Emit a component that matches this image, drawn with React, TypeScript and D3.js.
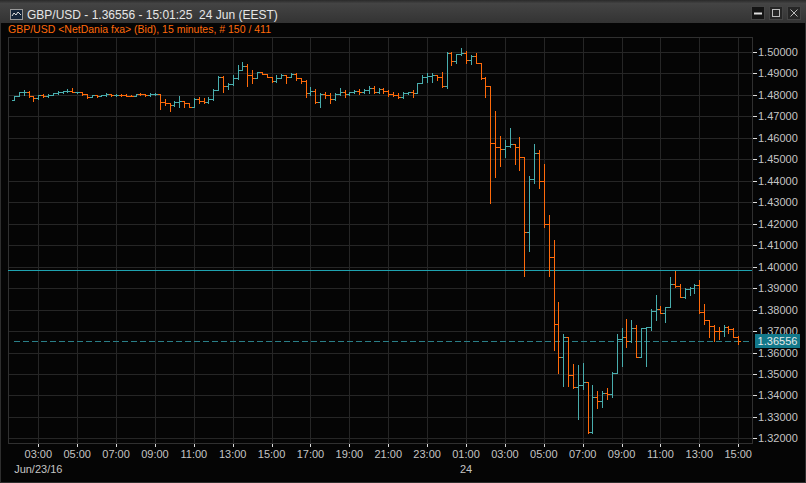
import { useEffect, useRef } from "react";
import * as d3 from "d3";

const width = 806, height = 483;
const plot = { left: 8, right: 752, top: 37, bottom: 443 };
const font = "'Liberation Sans', Arial, sans-serif";

const title = "GBP/USD - 1.36556 - 15:01:25  24 Jun (EEST)";
const subtitle = "GBP/USD <NetDania fxa> (Bid), 15 minutes, # 150 / 411";

// 15 minute bars, first one at Jun 23 01:45
const firstBar = Date.UTC(2016, 5, 23, 1, 45);
const barMinutes = 15;

const opens = [
  1.4775, 1.4797, 1.4812, 1.4814, 1.4797, 1.4784, 1.4801, 1.4797, 1.4801, 1.4807,
  1.4814, 1.4817, 1.4820, 1.4812, 1.4814, 1.4803, 1.4792, 1.4800, 1.4797, 1.4798,
  1.4806, 1.4800, 1.4801, 1.4798, 1.4797, 1.4795, 1.4804, 1.4803, 1.4801, 1.4804,
  1.4806, 1.4766, 1.4761, 1.4753, 1.4767, 1.4770, 1.4761, 1.4745, 1.4783, 1.4773,
  1.4767, 1.4779, 1.4823, 1.4885, 1.4842, 1.4851, 1.4877, 1.4916, 1.4935, 1.4893,
  1.4877, 1.4907, 1.4896, 1.4885, 1.4865, 1.4877, 1.4893, 1.4885, 1.4898, 1.4877,
  1.4866, 1.4811, 1.4820, 1.4769, 1.4804, 1.4800, 1.4779, 1.4804, 1.4815, 1.4803,
  1.4812, 1.4818, 1.4815, 1.4823, 1.4831, 1.4815, 1.4826, 1.4818, 1.4804, 1.4800,
  1.4792, 1.4807, 1.4815, 1.4810, 1.4854, 1.4885, 1.4888, 1.4893, 1.4885, 1.4842,
  1.4997, 1.4958, 1.4991, 1.4994, 1.4963, 1.4981, 1.4950, 1.4877, 1.4843, 1.4575,
  1.4559, 1.4547, 1.4562, 1.4572, 1.4556, 1.4510, 1.4163, 1.4407, 1.4528, 1.4401,
  1.4198, 1.4044, 1.3733, 1.3578, 1.3671, 1.3496, 1.3441, 1.3449, 1.3464, 1.3232,
  1.3395, 1.3376, 1.3410, 1.3407, 1.3506, 1.3663, 1.3671, 1.3655, 1.3713, 1.3578,
  1.3713, 1.3719, 1.3795, 1.3802, 1.3783, 1.3811, 1.3918, 1.3910, 1.3860, 1.3895,
  1.3899, 1.3915, 1.3790, 1.3752, 1.3725, 1.3702, 1.3698, 1.3721, 1.3708, 1.3674,
];

const highs = [
  1.4797, 1.4812, 1.4823, 1.4817, 1.4797, 1.4801, 1.4803, 1.4804, 1.4811, 1.4817,
  1.4820, 1.4826, 1.4832, 1.4815, 1.4814, 1.4804, 1.4801, 1.4801, 1.4801, 1.4807,
  1.4806, 1.4804, 1.4804, 1.4803, 1.4801, 1.4806, 1.4807, 1.4806, 1.4807, 1.4809,
  1.4806, 1.4779, 1.4764, 1.4770, 1.4795, 1.4770, 1.4764, 1.4785, 1.4792, 1.4784,
  1.4789, 1.4826, 1.4888, 1.4888, 1.4857, 1.4893, 1.4939, 1.4955, 1.4944, 1.4916,
  1.4908, 1.4907, 1.4897, 1.4885, 1.4893, 1.4897, 1.4893, 1.4901, 1.4901, 1.4877,
  1.4869, 1.4835, 1.4826, 1.4810, 1.4815, 1.4807, 1.4807, 1.4834, 1.4823, 1.4815,
  1.4823, 1.4826, 1.4826, 1.4842, 1.4842, 1.4834, 1.4831, 1.4823, 1.4815, 1.4810,
  1.4815, 1.4815, 1.4823, 1.4857, 1.4893, 1.4901, 1.4901, 1.4893, 1.4908, 1.5002,
  1.4998, 1.4991, 1.5017, 1.5005, 1.4986, 1.4994, 1.4950, 1.4882, 1.4843, 1.4727,
  1.4609, 1.4590, 1.4645, 1.4572, 1.4606, 1.4510, 1.4422, 1.4572, 1.4544, 1.4478,
  1.4241, 1.4124, 1.3837, 1.3687, 1.3671, 1.3547, 1.3542, 1.3550, 1.3464, 1.3449,
  1.3421, 1.3421, 1.3434, 1.3511, 1.3687, 1.3713, 1.3755, 1.3752, 1.3729, 1.3713,
  1.3719, 1.3802, 1.3868, 1.3817, 1.3814, 1.3951, 1.3981, 1.3919, 1.3899, 1.3904,
  1.3919, 1.3938, 1.3826, 1.3752, 1.3729, 1.3718, 1.3729, 1.3724, 1.3713, 1.3677,
];

const lows = [
  1.4775, 1.4796, 1.4801, 1.4792, 1.4773, 1.4783, 1.4792, 1.4792, 1.4800, 1.4806,
  1.4811, 1.4815, 1.4812, 1.4809, 1.4801, 1.4784, 1.4789, 1.4792, 1.4793, 1.4797,
  1.4797, 1.4795, 1.4795, 1.4793, 1.4793, 1.4795, 1.4798, 1.4797, 1.4797, 1.4800,
  1.4733, 1.4753, 1.4727, 1.4748, 1.4745, 1.4745, 1.4742, 1.4745, 1.4764, 1.4764,
  1.4764, 1.4776, 1.4823, 1.4812, 1.4826, 1.4846, 1.4874, 1.4916, 1.4843, 1.4857,
  1.4877, 1.4896, 1.4882, 1.4862, 1.4862, 1.4877, 1.4857, 1.4885, 1.4869, 1.4854,
  1.4789, 1.4800, 1.4764, 1.4742, 1.4784, 1.4761, 1.4776, 1.4800, 1.4789, 1.4800,
  1.4807, 1.4803, 1.4807, 1.4810, 1.4807, 1.4807, 1.4810, 1.4795, 1.4795, 1.4784,
  1.4787, 1.4804, 1.4792, 1.4807, 1.4854, 1.4862, 1.4862, 1.4869, 1.4835, 1.4831,
  1.4939, 1.4950, 1.4986, 1.4947, 1.4944, 1.4947, 1.4872, 1.4792, 1.4295, 1.4416,
  1.4469, 1.4512, 1.4559, 1.4477, 1.4450, 1.3958, 1.4075, 1.4391, 1.4365, 1.4184,
  1.3958, 1.3612, 1.3504, 1.3444, 1.3444, 1.3434, 1.3291, 1.3429, 1.3224, 1.3227,
  1.3341, 1.3348, 1.3382, 1.3395, 1.3504, 1.3538, 1.3625, 1.3651, 1.3578, 1.3578,
  1.3538, 1.3705, 1.3752, 1.3783, 1.3744, 1.3811, 1.3904, 1.3858, 1.3853, 1.3868,
  1.3876, 1.3783, 1.3733, 1.3674, 1.3655, 1.3662, 1.3677, 1.3690, 1.3671, 1.3640,
];

const closes = [
  1.4797, 1.4812, 1.4814, 1.4797, 1.4784, 1.4801, 1.4797, 1.4801, 1.4807, 1.4814,
  1.4817, 1.4820, 1.4812, 1.4814, 1.4803, 1.4792, 1.4800, 1.4797, 1.4798, 1.4806,
  1.4800, 1.4801, 1.4798, 1.4797, 1.4795, 1.4804, 1.4803, 1.4801, 1.4804, 1.4806,
  1.4766, 1.4761, 1.4753, 1.4767, 1.4770, 1.4761, 1.4745, 1.4783, 1.4773, 1.4767,
  1.4779, 1.4823, 1.4885, 1.4842, 1.4851, 1.4877, 1.4916, 1.4935, 1.4893, 1.4877,
  1.4907, 1.4896, 1.4885, 1.4865, 1.4877, 1.4893, 1.4885, 1.4898, 1.4877, 1.4866,
  1.4811, 1.4820, 1.4769, 1.4804, 1.4800, 1.4779, 1.4804, 1.4815, 1.4803, 1.4812,
  1.4818, 1.4815, 1.4823, 1.4831, 1.4815, 1.4826, 1.4818, 1.4804, 1.4800, 1.4792,
  1.4807, 1.4815, 1.4810, 1.4854, 1.4885, 1.4888, 1.4893, 1.4885, 1.4842, 1.4997,
  1.4958, 1.4991, 1.4994, 1.4963, 1.4981, 1.4950, 1.4877, 1.4843, 1.4575, 1.4559,
  1.4547, 1.4562, 1.4572, 1.4556, 1.4510, 1.4163, 1.4407, 1.4528, 1.4401, 1.4198,
  1.4044, 1.3733, 1.3578, 1.3671, 1.3496, 1.3441, 1.3449, 1.3464, 1.3232, 1.3395,
  1.3376, 1.3410, 1.3407, 1.3506, 1.3663, 1.3671, 1.3655, 1.3713, 1.3578, 1.3713,
  1.3719, 1.3795, 1.3802, 1.3783, 1.3811, 1.3918, 1.3910, 1.3860, 1.3895, 1.3899,
  1.3915, 1.3790, 1.3752, 1.3725, 1.3702, 1.3698, 1.3721, 1.3708, 1.3674, 1.36556,
];

const lastPrice = 1.36556;
const lineLevel = 1.3985;
const dayLabels = [
  { time: Date.UTC(2016, 5, 23, 3), label: "Jun/23/16" },
  { time: Date.UTC(2016, 5, 24, 1), label: "24" },
];

const upColor = "#48adad", downColor = "#ff6a0a";
const gridColor = "#262626";

const App = () => {
  const ref = useRef<SVGSVGElement>(null);

  useEffect(() => {
    const svg = d3.select(ref.current);
    svg.selectAll("*").remove();

    const x = d3.scaleUtc()
      .domain([new Date(Date.UTC(2016, 5, 23, 3)), new Date(Date.UTC(2016, 5, 24, 15))])
      .range([38.3, 738.2]);
    const y = d3.scaleLinear().domain([1.32, 1.5]).range([438.4, 52]);
    const crisp = (v: number) => Math.round(v) + 0.5;

    const bars = closes.map((c, i) => ({
      t: new Date(firstBar + i * barMinutes * 60000),
      o: opens[i], h: highs[i], l: lows[i], c,
    }));

    // window chrome
    const defs = svg.append("defs");
    const grad = defs.append("linearGradient").attr("id", "tbar").attr("x1", 0).attr("x2", 0).attr("y1", 0).attr("y2", 1);
    grad.append("stop").attr("offset", "0%").attr("stop-color", "#2a2a2a");
    grad.append("stop").attr("offset", "15%").attr("stop-color", "#444");
    grad.append("stop").attr("offset", "100%").attr("stop-color", "#333");

    svg.append("rect").attr("width", width).attr("height", height).attr("fill", "#050505");
    svg.append("rect").attr("x", 0.5).attr("y", 0.5).attr("width", width - 1).attr("height", height - 1)
      .attr("fill", "none").attr("stroke", "#2e2e2e");
    svg.append("rect").attr("width", width).attr("height", 23).attr("fill", "url(#tbar)");

    // icon
    const icon = svg.append("g");
    icon.append("rect").attr("x", 10.5).attr("y", 9.5).attr("width", 12).attr("height", 10)
      .attr("fill", "#15253a").attr("stroke", "#999");
    icon.append("polyline").attr("points", "12,16 14,13 16,15 18,12 21,15")
      .attr("fill", "none").attr("stroke", "#ddd").attr("stroke-width", 1);

    svg.append("text").attr("x", 27).attr("y", 19).attr("fill", "#e6e6e6")
      .attr("font-family", font).attr("font-size", 12).style("white-space", "pre").text(title);

    // window buttons
    const btns = [
      { x: 751, fill: "#141414" },
      { x: 769, fill: "#262626" },
      { x: 787, fill: "#262626" },
    ];
    btns.forEach(b => svg.append("rect").attr("x", b.x + 0.5).attr("y", 6.5).attr("width", 13).attr("height", 13)
      .attr("fill", b.fill).attr("stroke", "#444"));
    svg.append("line").attr("x1", 754).attr("x2", 762).attr("y1", 13.5).attr("y2", 13.5).attr("stroke", "#ddd").attr("stroke-width", 2);
    svg.append("rect").attr("x", 772.5).attr("y", 9.5).attr("width", 7).attr("height", 7).attr("fill", "none").attr("stroke", "#bbb");
    svg.append("path").attr("d", "M790.5,9.5L797.5,16.5M797.5,9.5L790.5,16.5").attr("stroke", "#bbb");

    svg.append("text").attr("x", 8).attr("y", 32.5).attr("fill", "#ff6a0a")
      .attr("font-family", font).attr("font-size", 10.5).text(subtitle);

    // grid
    const xTicks = d3.utcHours(new Date(Date.UTC(2016, 5, 23, 3)), new Date(Date.UTC(2016, 5, 24, 15, 1)), 2);
    const yTicks = y.ticks(18);
    const grid = svg.append("g").attr("stroke", gridColor).attr("stroke-width", 1);
    grid.selectAll("line.v").data(xTicks).join("line")
      .attr("x1", d => crisp(x(d))).attr("x2", d => crisp(x(d)))
      .attr("y1", plot.top).attr("y2", plot.bottom);
    grid.append("g").selectAll("line").data(yTicks).join("line")
      .attr("x1", plot.left).attr("x2", plot.right)
      .attr("y1", d => crisp(y(d))).attr("y2", d => crisp(y(d)));
    svg.append("rect").attr("x", plot.left + 0.5).attr("y", plot.top + 0.5)
      .attr("width", plot.right - plot.left).attr("height", plot.bottom - plot.top)
      .attr("fill", "none").attr("stroke", "#303030");

    // reference lines
    svg.append("line").attr("x1", plot.left).attr("x2", plot.right)
      .attr("y1", crisp(y(lineLevel))).attr("y2", crisp(y(lineLevel)))
      .attr("stroke", "#1fa3b0").attr("stroke-width", 1);
    svg.append("line").attr("x1", plot.left + 6).attr("x2", plot.right)
      .attr("y1", crisp(y(lastPrice))).attr("y2", crisp(y(lastPrice)))
      .attr("stroke", "#2a7f88").attr("stroke-dasharray", "6,3");

    // OHLC bars
    const g = svg.append("g").attr("stroke-width", 1);
    g.selectAll("path").data(bars).join("path")
      .attr("stroke", d => (d.c >= d.o ? upColor : downColor))
      .attr("fill", "none")
      .attr("d", d => {
        const cx = crisp(x(d.t));
        const yh = Math.round(y(d.h)), yl = Math.round(y(d.l)) + 1;
        const yo = crisp(y(d.o)), yc = crisp(y(d.c));
        return `M${cx},${yh}V${yl}M${cx - 2.5},${yo}H${cx}M${cx},${yc}H${cx + 2.5}`;
      });

    // right axis
    const ra = svg.append("g").attr("font-family", font).attr("font-size", 11);
    ra.selectAll("line").data(yTicks).join("line")
      .attr("x1", plot.right + 1).attr("x2", plot.right + 5)
      .attr("y1", d => crisp(y(d))).attr("y2", d => crisp(y(d)))
      .attr("stroke", "#ddd");
    ra.selectAll("text").data(yTicks).join("text")
      .attr("x", plot.right + 6).attr("y", d => y(d) + 4)
      .attr("fill", "#c4c4c4").text(d => d3.format(".5f")(d));

    // last price box
    svg.append("rect").attr("x", 755).attr("y", Math.round(y(lastPrice)) - 7).attr("width", 45).attr("height", 14)
      .attr("fill", "#12788a");
    svg.append("text").attr("x", 777.5).attr("y", y(lastPrice) + 4).attr("text-anchor", "middle")
      .attr("fill", "#e8e8e8").attr("font-family", font).attr("font-size", 11).text(d3.format(".5f")(lastPrice));

    // bottom axis
    const ba = svg.append("g").attr("font-family", font).attr("font-size", 11);
    ba.selectAll("line").data(xTicks).join("line")
      .attr("x1", d => crisp(x(d))).attr("x2", d => crisp(x(d)))
      .attr("y1", plot.bottom + 1).attr("y2", plot.bottom + 4).attr("stroke", "#ddd");
    ba.selectAll("text.t").data(xTicks).join("text")
      .attr("x", d => x(d)).attr("y", 458).attr("text-anchor", "middle")
      .attr("fill", "#c4c4c4").text(d => d3.utcFormat("%H:%M")(d));
    ba.append("g").selectAll("text").data(dayLabels).join("text")
      .attr("x", d => x(new Date(d.time))).attr("y", 473).attr("text-anchor", "middle")
      .attr("fill", "#c4c4c4").text(d => d.label);

    return () => { svg.selectAll("*").remove(); };
  }, []);

  return (
    <svg ref={ref} width={width} height={height}
      style={{ position: "absolute", left: 0, top: 0, display: "block" }} />
  );
};

export default App;
